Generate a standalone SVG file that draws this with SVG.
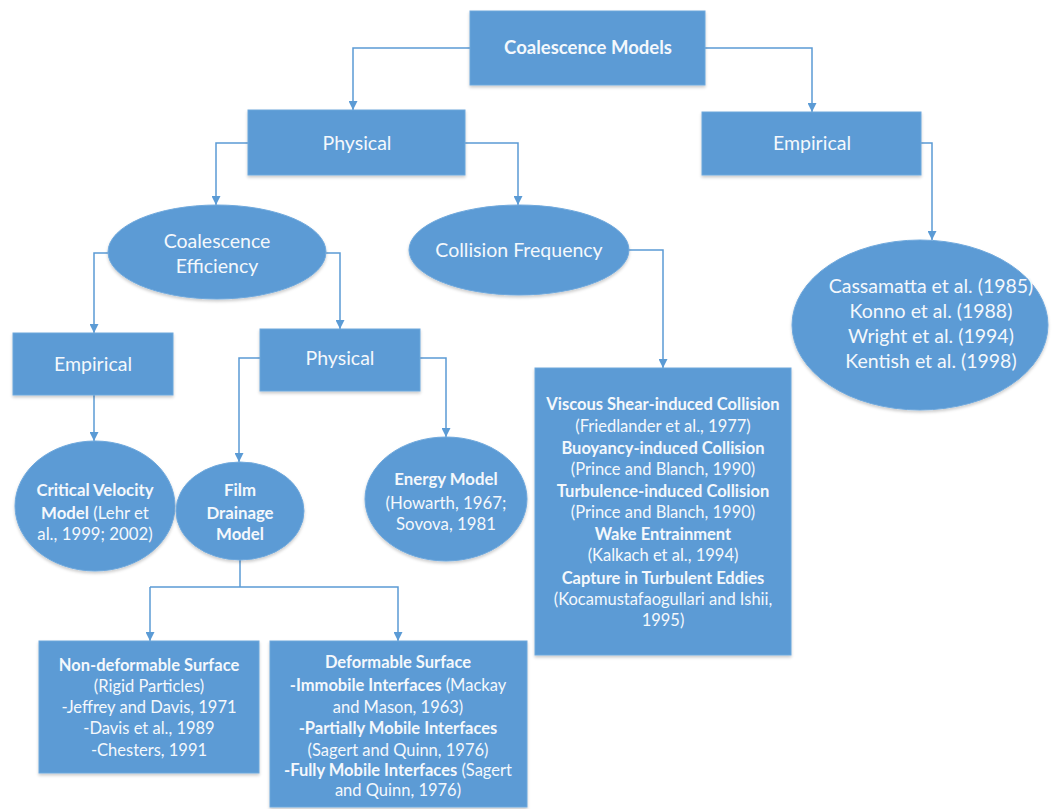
<svg xmlns="http://www.w3.org/2000/svg" width="1059" height="809" viewBox="0 0 1059 809">
<defs>
<marker id="arr" viewBox="0 0 10 10" refX="10" refY="5" markerWidth="9" markerHeight="9" markerUnits="userSpaceOnUse" orient="auto">
<path d="M0,0 L10,5 L0,10 z" fill="#5B9BD5"/>
</marker>
<filter id="sh" x="-10%" y="-10%" width="120%" height="130%">
<feDropShadow dx="0" dy="2" stdDeviation="1.5" flood-color="#000" flood-opacity="0.2"/>
</filter>
<style>
.n{fill:#5B9BD5;stroke:#6FA8DC;stroke-width:1;filter:url(#sh)}
.c{fill:none;stroke:#5B9BD5;stroke-width:1.5;marker-end:url(#arr)}
.l{fill:none;stroke:#5B9BD5;stroke-width:1.5}
text{font-family:Lato,"Liberation Sans",sans-serif;fill:#F4F8FC;text-anchor:middle}
.title{font-size:18.5px;font-weight:bold}
.big{font-size:19.5px}
.mid{font-size:16.8px}
.sm{font-size:16.5px}
.b{font-weight:bold}
</style>
</defs>
<rect width="1059" height="809" fill="#fff"/>
<g id="connectors">
<path class="c" d="M470,48 H353 V110"/>
<path class="c" d="M705,48 H812 V112"/>
<path class="c" d="M248,143 H216 V205"/>
<path class="c" d="M465,143 H518 V205"/>
<path class="c" d="M921,143 H932 V240"/>
<path class="c" d="M629,250 H663 V368"/>
<path class="c" d="M108,253 H94 V333"/>
<path class="c" d="M326,253 H340 V329"/>
<path class="c" d="M94,395 V441"/>
<path class="c" d="M260,358 H239 V462"/>
<path class="c" d="M420,358 H446 V437"/>
<path class="l" d="M240,560 V587"/>
<path class="c" d="M150,587 H398 V641"/>
<path class="c" d="M150,587 V641"/>
</g>
<g id="coalescence-models">
<rect class="n" x="470" y="11" width="235" height="74"/>
<text class="title" x="588" y="54">Coalescence Models</text>
</g>
<g id="physical">
<rect class="n" x="248" y="110" width="217" height="65"/>
<text class="big" x="357" y="150">Physical</text>
</g>
<g id="empirical">
<rect class="n" x="702" y="112" width="219" height="63"/>
<text class="big" x="812" y="150">Empirical</text>
</g>
<g id="coalescence-efficiency">
<ellipse class="n" cx="217" cy="252" rx="109" ry="47"/>
<text class="big" x="217" y="248">Coalescence</text>
<text class="big" x="217" y="273">Efficiency</text>
</g>
<g id="collision-frequency">
<ellipse class="n" cx="519" cy="250" rx="110" ry="45"/>
<text class="big" x="519" y="257">Collision Frequency</text>
</g>
<g id="empirical-models">
<ellipse class="n" cx="920" cy="325" rx="128" ry="85"/>
<text class="big" x="931" y="293">Cassamatta et al. (1985)</text>
<text class="big" x="931" y="318">Konno et al. (1988)</text>
<text class="big" x="931" y="343">Wright et al. (1994)</text>
<text class="big" x="931" y="368">Kentish et al. (1998)</text>
</g>
<g id="empirical-2">
<rect class="n" x="13" y="333" width="160" height="62"/>
<text class="big" x="93" y="371">Empirical</text>
</g>
<g id="physical-2">
<rect class="n" x="260" y="329" width="160" height="62"/>
<text class="big" x="340" y="365">Physical</text>
</g>
<g id="critical-velocity">
<ellipse class="n" cx="95" cy="506" rx="80" ry="65"/>
<text class="mid b" x="95" y="496">Critical Velocity</text>
<text class="mid" x="95" y="519"><tspan class="b">Model</tspan> (Lehr et</text>
<text class="mid" x="95" y="540">al., 1999; 2002)</text>
</g>
<g id="film-drainage">
<ellipse class="n" cx="240" cy="511" rx="64" ry="49"/>
<text class="mid b" x="240" y="496">Film</text>
<text class="mid b" x="240" y="519">Drainage</text>
<text class="mid b" x="240" y="540">Model</text>
</g>
<g id="energy-model">
<ellipse class="n" cx="446" cy="499" rx="81" ry="62"/>
<text class="mid b" x="446" y="485">Energy Model</text>
<text class="mid" x="446" y="509">(Howarth, 1967;</text>
<text class="mid" x="446" y="530">Sovova, 1981</text>
</g>
<g id="collision-mechanisms">
<rect class="n" x="535" y="368" width="256" height="287"/>
<text class="sm b" x="663" y="410">Viscous Shear-induced Collision</text>
<text class="sm" x="663" y="432">(Friedlander et al., 1977)</text>
<text class="sm b" x="663" y="454">Buoyancy-induced Collision</text>
<text class="sm" x="663" y="475">(Prince and Blanch, 1990)</text>
<text class="sm b" x="663" y="497">Turbulence-induced Collision</text>
<text class="sm" x="663" y="518">(Prince and Blanch, 1990)</text>
<text class="sm b" x="663" y="540">Wake Entrainment</text>
<text class="sm" x="663" y="561">(Kalkach et al., 1994)</text>
<text class="sm b" x="663" y="584">Capture in Turbulent Eddies</text>
<text class="sm" x="663" y="605">(Kocamustafaogullari and Ishii,</text>
<text class="sm" x="663" y="626">1995)</text>
</g>
<g id="non-deformable">
<rect class="n" x="39" y="641" width="220" height="132"/>
<text class="sm b" x="149" y="671">Non-deformable Surface</text>
<text class="sm" x="149" y="692">(Rigid Particles)</text>
<text class="sm" x="149" y="713">-Jeffrey and Davis, 1971</text>
<text class="sm" x="149" y="734">-Davis et al., 1989</text>
<text class="sm" x="149" y="756">-Chesters, 1991</text>
</g>
<g id="deformable">
<rect class="n" x="270" y="641" width="257" height="166"/>
<text class="sm b" x="398" y="668">Deformable Surface</text>
<text class="sm" x="398" y="691"><tspan class="b">-Immobile Interfaces</tspan> (Mackay</text>
<text class="sm" x="398" y="713">and Mason, 1963)</text>
<text class="sm b" x="398" y="734">-Partially Mobile Interfaces</text>
<text class="sm" x="398" y="756">(Sagert and Quinn, 1976)</text>
<text class="sm" x="398" y="776"><tspan class="b">-Fully Mobile Interfaces</tspan> (Sagert</text>
<text class="sm" x="398" y="796">and Quinn, 1976)</text>
</g>
</svg>
